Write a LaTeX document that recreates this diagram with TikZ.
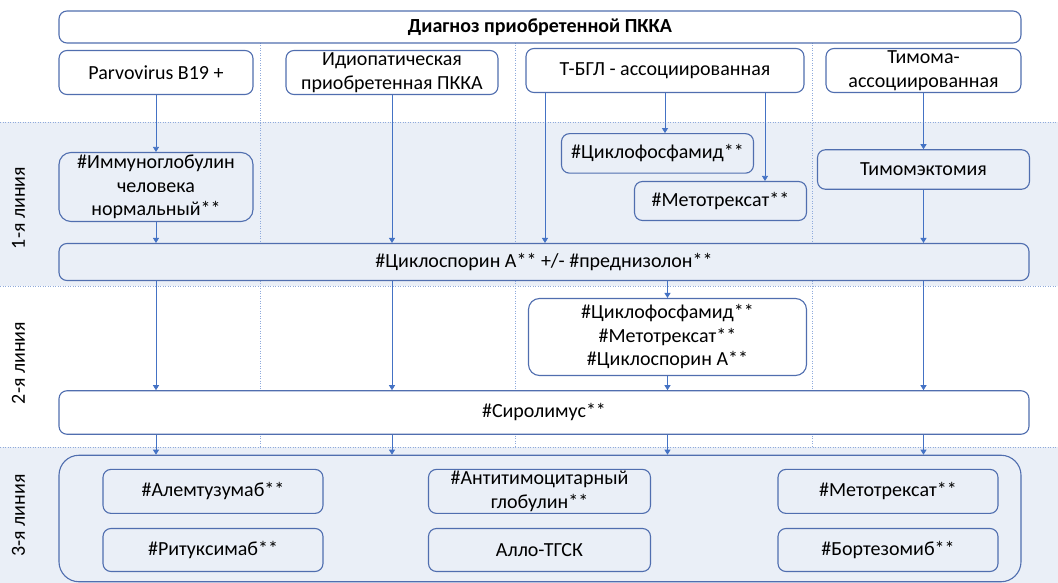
\documentclass[tikz,border=0pt]{standalone}
\usepackage{fontspec}
\setmainfont{Carlito}
\usetikzlibrary{arrows.meta,calc}

\definecolor{bandblue}{RGB}{234,239,247}
\definecolor{boxline}{RGB}{80,110,175}
\definecolor{arrowblue}{RGB}{68,114,196}
\definecolor{gridblue}{RGB}{143,170,220}

\begin{document}
\begin{tikzpicture}[
      x=1pt, y=-1pt,
      font=\fontsize{20}{23.5}\selectfont,
      box/.style={draw=boxline, line width=1.1pt, rounded corners=8pt,
        fill=white, align=center, inner sep=0pt},
      bandbox/.style={box, fill=bandblue},
      arr/.style={draw=arrowblue, line width=0.8pt,
        -{Triangle[width=6pt,length=5pt]}},
      sep/.style={gridblue, line width=1pt, dash pattern=on 1pt off 1.5pt},
      lane/.style={rotate=90}
    ]
    \useasboundingbox (0,0) rectangle (1058,583);

    % bands and grid
    \fill[bandblue] (0,122.5) rectangle (1058,286);
    \fill[bandblue] (0,447) rectangle (1058,583);
    \foreach \yy in {122.5,286,447}
      \draw[sep] (0,\yy) -- (1058,\yy);
    \foreach \xx in {260,515,812}
      \draw[sep] (\xx,43) -- (\xx,447);

    \node[lane] (l1) at (18.5,208) {1-я линия};
    \node[lane] (l2) at (18.5,363) {2-я линия};
    \node[lane] (l3) at (18.5,515.5) {3-я линия};

    % diagnosis
    \node[box, font=\fontsize{20}{23.5}\selectfont\bfseries,
      minimum width=962pt, minimum height=32pt] (diag) at (540,27)
      {Диагноз приобретенной ПККА};
    \node[box, minimum width=194pt, minimum height=44pt] (parvo) at (156,72.5)
      {Parvovirus B19 +};
    \node[box, minimum width=212pt, minimum height=44pt] (idio) at (392,72.5)
      {Идиопатическая\\приобретенная ПККА};
    \node[box, minimum width=278pt, minimum height=44pt] (tbgl) at (665,70.5)
      {Т-БГЛ - ассоциированная};
    \node[box, minimum width=195pt, minimum height=44pt] (thym) at (923.5,70.5)
      {Тимома-\\ассоциированная};

    % 1st line
    \node[bandbox, rounded corners=12pt, minimum width=194pt, minimum height=69pt]
      (immuno) at (156,187) {\#Иммуноглобулин\\человека\\нормальный**};
    \node[bandbox, minimum width=192pt, minimum height=39.5pt] (cyc1) at (657.5,153.4)
      {\#Циклофосфамид**};
    \node[bandbox, minimum width=172pt, minimum height=39pt] (mtx1) at (720.5,201)
      {\#Метотрексат**};
    \node[bandbox, minimum width=212pt, minimum height=39.5pt] (thyx) at (923.5,169.5)
      {Тимомэктомия};
    \node[bandbox, minimum width=970pt, minimum height=37pt] (csa) at (544,262)
      {\#Циклоспорин А** +/- \#преднизолон**};

    % 2nd line
    \node[box, rounded corners=11pt, minimum width=278pt, minimum height=77pt]
      (combo) at (667.5,337)
      {\#Циклофосфамид**\\\#Метотрексат**\\\#Циклоспорин А**};
    \node[box, minimum width=970pt, minimum height=43.5pt] (siro) at (544,412.5)
      {\#Сиролимус**};

    % 3rd line
    \node[bandbox, rounded corners=20pt, minimum width=962pt, minimum height=126.5pt]
      (third) at (540,518.5) {};
    \node[bandbox, minimum width=220pt, minimum height=44pt] (alem) at (213,491.4)
      {\#Алемтузумаб**};
    \node[bandbox, minimum width=220pt, minimum height=43pt] (ritux) at (213,550)
      {\#Ритуксимаб**};
    \node[bandbox, minimum width=222pt, minimum height=44pt] (atg) at (539.5,491.4)
      {\#Антитимоцитарный\\глобулин**};
    \node[bandbox, minimum width=222pt, minimum height=43pt] (allo) at (539.5,550)
      {Алло-ТГСК};
    \node[bandbox, minimum width=220pt, minimum height=44pt] (mtx3) at (888,491.4)
      {\#Метотрексат**};
    \node[bandbox, minimum width=220pt, minimum height=43pt] (bort) at (888,550)
      {\#Бортезомиб**};

    % arrows
    \coordinate (tb1) at ([xshift=-120pt]tbgl.south);
    \coordinate (tb3) at ([xshift=100pt]tbgl.south);
    \draw[arr] (parvo) -- (immuno);
    \draw[arr] (immuno) -- (immuno |- csa.north);
    \draw[arr] (idio) -- (idio |- csa.north);
    \draw[arr] (tb1) -- (tb1 |- csa.north);
    \draw[arr] (tbgl) -- (tbgl |- cyc1.north);
    \draw[arr] (tb3) -- (tb3 |- mtx1.north);
    \draw[arr] (thym) -- (thyx);
    \draw[arr] (thyx) -- (thyx |- csa.north);
    \foreach \col in {parvo,idio,thym}
      \draw[arr] (\col |- csa.south) -- (\col |- siro.north);
    \draw[arr] (combo |- csa.south) -- (combo);
    \draw[arr] (combo) -- (combo |- siro.north);
    \foreach \col in {parvo,idio,combo,thym}
      \draw[arr] (\col |- siro.south) -- (\col |- third.north);
\end{tikzpicture}
\end{document}
